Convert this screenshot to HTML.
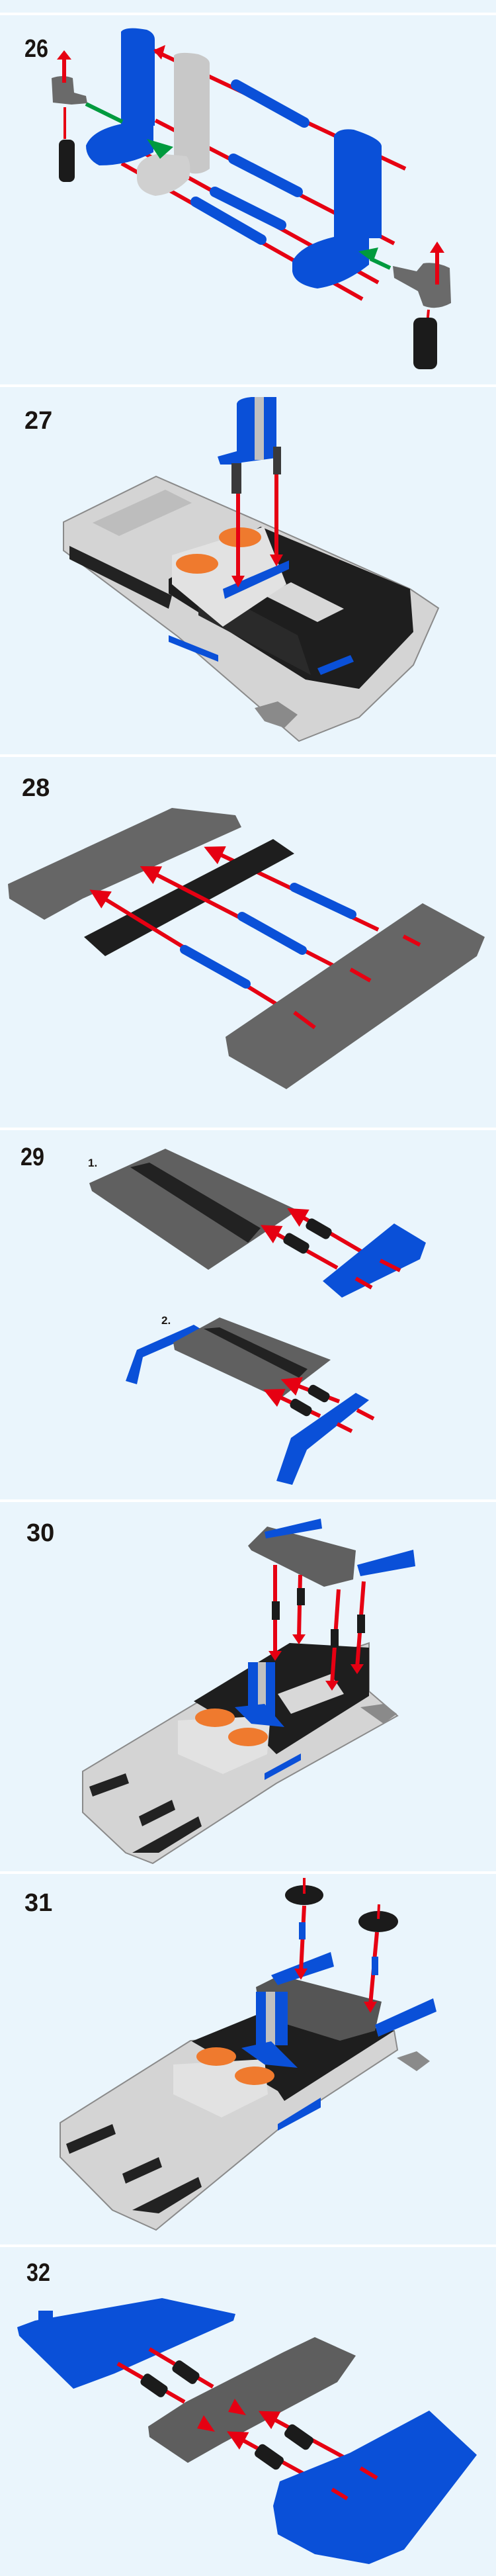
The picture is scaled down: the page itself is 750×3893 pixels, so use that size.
<!DOCTYPE html>
<html><head><meta charset="utf-8"><style>
html,body{margin:0;padding:0;background:#eaf5fc}
svg{display:block}
.lbl{font-family:"Liberation Sans",sans-serif;font-weight:bold;font-size:38px;fill:#1a1512}
.sm{font-family:"Liberation Sans",sans-serif;font-weight:bold;font-size:17px;fill:#1a1512}
.r{stroke:#e60012;stroke-width:6;fill:none}
.g{stroke:#009a3e;stroke-width:6;fill:none}
</style></head><body>
<svg width="750" height="3893" viewBox="0 0 750 3893" xmlns="http://www.w3.org/2000/svg">
<defs>
<marker id="ah" viewBox="0 0 10 10" refX="2" refY="5" markerWidth="5" markerHeight="5" orient="auto-start-reverse"><path d="M0,0L10,5L0,10z" fill="#e60012"/></marker>
<marker id="gh" viewBox="0 0 10 10" refX="2" refY="5" markerWidth="5" markerHeight="5" orient="auto-start-reverse"><path d="M0,0L10,5L0,10z" fill="#009a3e"/></marker>
</defs>
<rect width="750" height="3893" fill="#eaf5fc"/>
<g fill="#fff">
<rect y="19" width="750" height="4"/><rect y="581" width="750" height="4"/><rect y="1140" width="750" height="4"/>
<rect y="1704" width="750" height="4"/><rect y="2266" width="750" height="4"/><rect y="2828" width="750" height="4"/><rect y="3392" width="750" height="4"/>
</g>

<!-- 26 -->
<text class="lbl" x="37" y="86" transform="translate(37 0) scale(0.85 1) translate(-37 0)">26</text>
<g>
<line class="r" x1="613" y1="255" x2="232" y2="76"/>
<line class="r" x1="596" y1="368" x2="235" y2="182"/>
<line class="r" x1="572" y1="427" x2="208" y2="226"/>
<line class="r" x1="548" y1="452" x2="184" y2="247"/>
<path d="M183,48 Q190,39 222,45 Q234,50 234,60 L234,190 L220,190 L183,190Z" fill="#0a50d8"/>
<path d="M130,220 Q140,195 190,186 L232,186 L232,230 Q195,250 150,250 Q130,240 130,220Z" fill="#0a50d8"/>
<path d="M263,84 Q270,77 300,82 Q317,88 317,96 L317,255 Q305,264 290,262 L263,250Z" fill="#c8c8c8"/>
<path d="M207,255 Q212,238 240,232 L282,236 Q290,245 286,270 Q265,293 235,296 Q208,290 207,270Z" fill="#d0d0d0"/>
<path d="M505,205 Q512,193 535,196 Q578,210 577,222 L577,360 L505,360Z" fill="#0a50d8"/>
<path d="M442,395 Q455,370 505,358 L558,357 L558,400 Q520,430 480,436 Q445,430 442,410Z" fill="#0a50d8"/>
<g stroke="#0a50d8" stroke-width="16" stroke-linecap="round">
<line x1="357" y1="128" x2="460" y2="185"/><line x1="353" y1="240" x2="450" y2="290"/>
<line x1="325" y1="290" x2="425" y2="340"/><line x1="296" y1="305" x2="395" y2="362"/>
</g>
<path d="M232,76l18,-8l-6,22z" fill="#e60012"/>
<line class="g" x1="130" y1="157" x2="185" y2="184"/>
<path d="M222,210 l40,12 l-20,18z" fill="#009a3e"/>
<line class="g" x1="590" y1="405" x2="560" y2="391"/>
<path d="M542,380 l30,-6 l-8,22z" fill="#009a3e"/>
<path d="M78,118 Q95,112 110,118 L112,140 L130,145 L132,156 L108,158 L80,155Z" fill="#6a6a6a"/>
<line class="r" x1="97" y1="125" x2="97" y2="88"/><path d="M86,90 L97,76 L108,90Z" fill="#e60012"/>
<line class="r" x1="98" y1="162" x2="98" y2="210" style="stroke-width:4"/>
<rect x="89" y="211" width="24" height="64" rx="8" fill="#1b1b1b"/>
<path d="M594,402 L630,410 L640,398 Q660,395 680,405 L682,458 Q660,470 640,462 L632,440 L596,420Z" fill="#6a6a6a"/>
<line class="r" x1="661" y1="430" x2="661" y2="380"/><path d="M650,382 L661,365 L672,382Z" fill="#e60012"/>
<line class="r" x1="648" y1="468" x2="646" y2="490" style="stroke-width:4"/>
<rect x="625" y="480" width="36" height="78" rx="10" fill="#1b1b1b"/>
</g>

<!-- 27 -->
<text class="lbl" x="37" y="648">27</text>
<g>
<path d="M96,789 L236,720 L394,789 L620,890 L663,919 L625,1005 L543,1084 L452,1120 L269,962 L96,832Z" fill="#d4d4d4" stroke="#8a8a8a" stroke-width="2"/>
<path d="M140,790 L250,740 L290,760 L180,810Z" fill="#bdbdbd"/>
<path d="M105,825 L260,900 L255,920 L105,845Z" fill="#222"/>
<path d="M255,875 L394,796 L620,890 L625,955 L543,1041 L462,1027 L255,897Z" fill="#1e1e1e"/>
<path d="M300,880 L450,960 L470,1020 L300,930Z" fill="#2a2a2a"/>
<path d="M400,900 L480,940 L520,920 L440,880Z" fill="#d8d8d8"/>
<path d="M260,839 L399,796 L433,883 L337,947 L260,883Z" fill="#e2e2e2"/>
<ellipse cx="298" cy="852" rx="32" ry="15" fill="#ef7a2e"/><ellipse cx="363" cy="812" rx="32" ry="15" fill="#ef7a2e"/>
<path d="M337,890 L437,847 L437,860 L340,905Z" fill="#0a50d8"/>
<path d="M255,960 L330,990 L330,1000 L255,970Z" fill="#0a50d8"/>
<path d="M480,1010 L530,990 L535,1000 L485,1020Z" fill="#0a50d8"/>
<path d="M358,610 Q360,602 380,600 L418,600 L418,692 L358,700Z" fill="#0a50d8"/>
<rect x="385" y="600" width="14" height="95" fill="#c0c0c0"/>
<path d="M329,690 L365,680 L365,702 L333,702Z" fill="#0a50d8"/>
<rect x="350" y="700" width="15" height="46" fill="#3a3a3a"/><rect x="413" y="675" width="12" height="42" fill="#3a3a3a"/>
<line class="r" x1="360" y1="746" x2="360" y2="875"/><path d="M350,870 L360,888 L370,870Z" fill="#e60012"/>
<line class="r" x1="418" y1="717" x2="418" y2="842"/><path d="M408,838 L418,856 L428,838Z" fill="#e60012"/>
<path d="M385,1070 L420,1060 L450,1080 L430,1100 L400,1090Z" fill="#8a8a8a"/>
</g>

<!-- 28 -->
<text class="lbl" x="33" y="1203">28</text>
<g>
<path d="M12,1336 L260,1221 L356,1232 L365,1250 L125,1358 L67,1390 L14,1358Z" fill="#666"/>
<line class="r" x1="572" y1="1405" x2="330" y2="1290" marker-end="url(#ah)"/>
<path d="M127,1416 L413,1268 L445,1290 L159,1445Z" fill="#1e1e1e"/>
<line class="r" x1="560" y1="1488" x2="233" y2="1320" marker-end="url(#ah)"/>
<line class="r" x1="476" y1="1553" x2="156" y2="1357" marker-end="url(#ah)"/>
<g stroke="#0a50d8" stroke-width="14" stroke-linecap="round">
<line x1="445" y1="1341" x2="532" y2="1382"/><line x1="366" y1="1385" x2="457" y2="1436"/><line x1="279" y1="1435" x2="372" y2="1487"/>
</g>
<path d="M341,1567 L639,1365 L733,1416 L721,1445 L433,1646 L346,1596Z" fill="#666"/>
<line class="r" x1="610" y1="1415" x2="635" y2="1428"/><line class="r" x1="530" y1="1465" x2="560" y2="1482"/><line class="r" x1="445" y1="1530" x2="476" y2="1553"/>
</g>

<!-- 29 -->
<text class="lbl" x="31" y="1761" transform="translate(31 0) scale(0.85 1) translate(-31 0)">29</text>
<text class="sm" x="133" y="1763">1.</text>
<text class="sm" x="244" y="2001">2.</text>
<g>
<path d="M135,1788 L250,1736 L450,1829 L380,1876 L315,1919 L139,1800Z" fill="#606060"/>
<path d="M197,1764 L226,1757 L394,1856 L375,1878Z" fill="#222"/>
<line class="r" x1="546" y1="1891" x2="455" y2="1838" marker-end="url(#ah)"/>
<line class="r" x1="510" y1="1916" x2="415" y2="1863" marker-end="url(#ah)"/>
<rect x="462" y="1848" width="40" height="18" rx="6" fill="#1b1b1b" transform="rotate(30 482 1857)"/>
<rect x="428" y="1870" width="40" height="18" rx="6" fill="#1b1b1b" transform="rotate(30 448 1879)"/>
<path d="M488,1936 L596,1849 L644,1878 L635,1903 L517,1961 Z" fill="#0a50d8"/>
<line class="r" x1="575" y1="1905" x2="605" y2="1920"/><line class="r" x1="538" y1="1932" x2="562" y2="1946"/>
<path d="M190,2087 L207,2040 L293,2002 L308,2011 L216,2051 L207,2092Z" fill="#0a50d8"/>
<path d="M262,2029 L332,1991 L500,2055 L423,2114 L264,2040Z" fill="#606060"/>
<path d="M308,2008 L332,2006 L465,2069 L452,2082Z" fill="#222"/>
<line class="r" x1="513" y1="2118" x2="447" y2="2093" marker-end="url(#ah)"/>
<line class="r" x1="484" y1="2140" x2="420" y2="2110" marker-end="url(#ah)"/>
<rect x="465" y="2098" width="34" height="16" rx="6" fill="#1b1b1b" transform="rotate(30 482 2106)"/>
<rect x="438" y="2119" width="34" height="16" rx="6" fill="#1b1b1b" transform="rotate(30 455 2127)"/>
<path d="M418,2238 L440,2173 L538,2105 L558,2116 L464,2191 L442,2244Z" fill="#0a50d8"/>
<line class="r" x1="540" y1="2131" x2="565" y2="2144"/><line class="r" x1="510" y1="2152" x2="532" y2="2163"/>
</g>

<!-- 30 -->
<text class="lbl" x="40" y="2329">30</text>
<g>
<path d="M125,2677 L308,2567 L558,2483 L558,2556 L601,2593 L418,2695 L231,2816 L190,2800 L125,2739Z" fill="#d4d4d4" stroke="#8a8a8a" stroke-width="2"/>
<path d="M135,2700 L190,2680 L195,2695 L140,2715Z M210,2745 L260,2720 L265,2735 L215,2760Z M200,2800 L300,2745 L305,2760 L240,2800Z" fill="#222"/>
<path d="M293,2571 L438,2483 L558,2490 L558,2563 L418,2651 L404,2637Z" fill="#1e1e1e"/>
<path d="M420,2560 L500,2530 L520,2560 L440,2590Z" fill="#d8d8d8"/>
<path d="M269,2600 L409,2593 L404,2651 L337,2681 L269,2651Z" fill="#e2e2e2"/>
<ellipse cx="325" cy="2596" rx="30" ry="14" fill="#ef7a2e"/><ellipse cx="375" cy="2625" rx="30" ry="14" fill="#ef7a2e"/>
<rect x="375" y="2512" width="41" height="82" fill="#0a50d8"/><rect x="390" y="2512" width="12" height="82" fill="#c0c0c0"/>
<path d="M355,2580 L400,2575 L430,2610 L380,2605Z" fill="#0a50d8"/>
<path d="M400,2680 L455,2650 L455,2660 L400,2690Z" fill="#0a50d8"/>
<path d="M375,2336 L404,2307 L538,2343 L534,2387 L490,2398 L380,2343Z" fill="#606060"/>
<path d="M400,2315 L485,2295 L487,2310 L402,2325Z" fill="#0a50d8"/>
<path d="M540,2365 L625,2342 L628,2367 L545,2382Z" fill="#0a50d8"/>
<line class="r" x1="416" y1="2365" x2="416" y2="2500"/><path d="M406,2495 L416,2510 L426,2495Z" fill="#e60012"/>
<line class="r" x1="454" y1="2380" x2="452" y2="2475"/><path d="M442,2470 L452,2485 L462,2470Z" fill="#e60012"/>
<line class="r" x1="512" y1="2402" x2="502" y2="2545"/><path d="M492,2540 L502,2555 L512,2540Z" fill="#e60012"/>
<line class="r" x1="550" y1="2390" x2="540" y2="2520"/><path d="M530,2515 L540,2530 L550,2515Z" fill="#e60012"/>
<rect x="411" y="2420" width="12" height="28" fill="#1b1b1b"/><rect x="449" y="2400" width="12" height="26" fill="#1b1b1b"/>
<rect x="500" y="2462" width="12" height="28" fill="#1b1b1b"/><rect x="540" y="2440" width="12" height="28" fill="#1b1b1b"/>
<path d="M545,2580 L580,2575 L600,2590 L580,2605Z" fill="#8a8a8a"/>
</g>

<!-- 31 -->
<text class="lbl" x="37" y="2888">31</text>
<g>
<path d="M91,3208 L288,3084 L596,3069 L601,3098 L433,3208 L236,3370 L170,3340 L91,3260Z" fill="#d4d4d4" stroke="#8a8a8a" stroke-width="2"/>
<path d="M100,3240 L170,3210 L175,3225 L105,3255Z M185,3285 L240,3260 L245,3275 L190,3300Z M200,3340 L300,3290 L305,3305 L240,3345Z" fill="#222"/>
<path d="M290,3085 L400,3040 L596,3069 L430,3175 L420,3160Z" fill="#1e1e1e"/>
<path d="M262,3120 L400,3112 L405,3165 L335,3200 L262,3165Z" fill="#e2e2e2"/>
<ellipse cx="327" cy="3108" rx="30" ry="14" fill="#ef7a2e"/><ellipse cx="385" cy="3137" rx="30" ry="14" fill="#ef7a2e"/>
<path d="M387,3003 L423,2985 L577,3025 L567,3069 L514,3084 L394,3047Z" fill="#555"/>
<path d="M410,2985 L500,2950 L505,2972 L420,3000Z" fill="#0a50d8"/>
<path d="M567,3060 L655,3020 L660,3040 L572,3078Z" fill="#0a50d8"/>
<rect x="387" y="3010" width="48" height="81" fill="#0a50d8"/><rect x="402" y="3010" width="14" height="81" fill="#c0c0c0"/>
<path d="M365,3095 L410,3085 L450,3125 L400,3120Z" fill="#0a50d8"/>
<path d="M420,3210 L485,3170 L485,3185 L420,3220Z" fill="#0a50d8"/>
<ellipse cx="460" cy="2864" rx="29" ry="15" fill="#1b1b1b"/><ellipse cx="572" cy="2904" rx="30" ry="16" fill="#1b1b1b"/>
<line class="r" x1="460" y1="2838" x2="460" y2="2862" style="stroke-width:4"/><line class="r" x1="573" y1="2878" x2="572" y2="2900" style="stroke-width:4"/>
<line class="r" x1="460" y1="2880" x2="455" y2="2980"/><path d="M445,2975 L455,2992 L465,2975Z" fill="#e60012"/>
<line class="r" x1="570" y1="2920" x2="560" y2="3030"/><path d="M550,3025 L560,3042 L570,3025Z" fill="#e60012"/>
<rect x="452" y="2905" width="10" height="26" fill="#0a50d8"/><rect x="562" y="2957" width="10" height="28" fill="#0a50d8"/>
<path d="M600,3110 L630,3100 L650,3115 L630,3130Z" fill="#8a8a8a"/>
</g>

<!-- 32 -->
<text class="lbl" x="40" y="3447" transform="translate(40 0) scale(0.85 1) translate(-40 0)">32</text>
<g>
<path d="M26,3517 L53,3507 L245,3473 L356,3497 L353,3507 L173,3587 L111,3610 L29,3530Z" fill="#0a50d8"/>
<rect x="58" y="3492" width="22" height="24" fill="#0a50d8"/>
<line class="r" x1="178" y1="3572" x2="279" y2="3630"/><line class="r" x1="226" y1="3550" x2="322" y2="3607"/>
<rect x="212" y="3595" width="42" height="20" rx="6" fill="#1b1b1b" transform="rotate(35 233 3605)"/>
<rect x="260" y="3575" width="42" height="20" rx="6" fill="#1b1b1b" transform="rotate(35 281 3585)"/>
<path d="M224,3667 L281,3630 L428,3555 L476,3532 L538,3560 L510,3600 L337,3692 L284,3722 L226,3683Z" fill="#5e5e5e"/>
<path d="M355,3625 L372,3650 L345,3645Z M308,3650 L325,3675 L298,3670Z" fill="#e60012"/>
<line class="r" x1="519" y1="3713" x2="412" y2="3655" marker-end="url(#ah)"/>
<line class="r" x1="471" y1="3745" x2="364" y2="3686" marker-end="url(#ah)"/>
<rect x="430" y="3672" width="44" height="22" rx="6" fill="#1b1b1b" transform="rotate(35 452 3683)"/>
<rect x="385" y="3702" width="44" height="22" rx="6" fill="#1b1b1b" transform="rotate(35 407 3713)"/>
<path d="M413,3787 L423,3750 L529,3707 L649,3643 L721,3710 L611,3853 L558,3875 L476,3860 L420,3830Z" fill="#0a50d8"/>
<line class="r" x1="545" y1="3730" x2="570" y2="3745"/><line class="r" x1="502" y1="3762" x2="525" y2="3776"/>
</g>
</svg>
</body></html>
